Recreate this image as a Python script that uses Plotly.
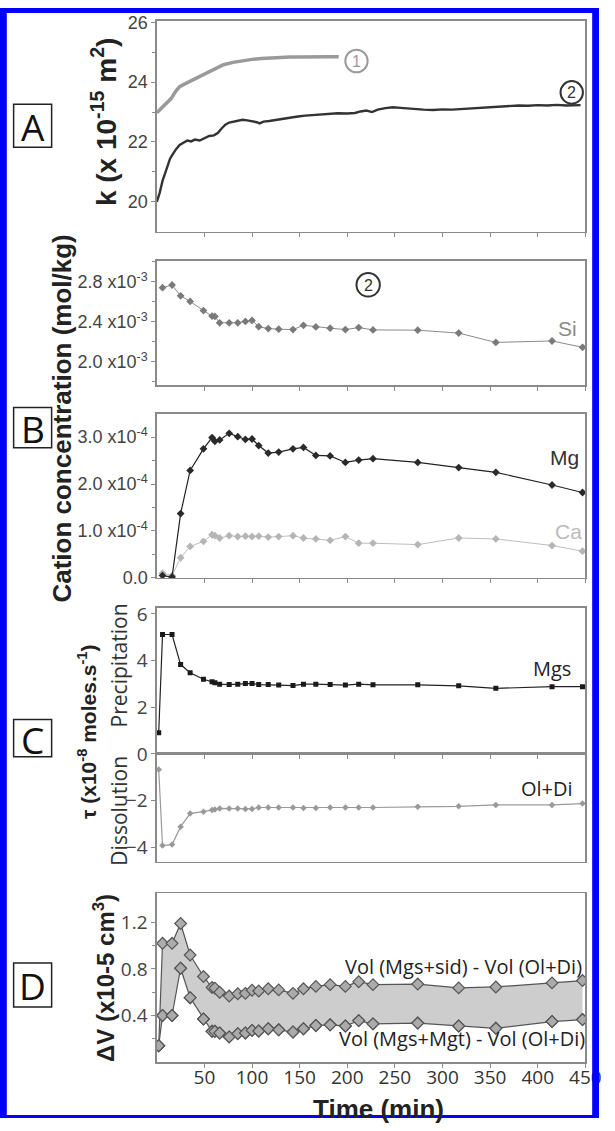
import plotly.graph_objects as go

W, H = 615, 1131

# ---------------- data ----------------
# Panel A: permeability k (x1e-15 m2)
t_k1 = [0, 5, 10, 15, 20, 24, 30, 40, 50, 60, 70, 80, 90, 100, 110, 120, 130, 140, 150, 160, 170, 180, 191]
k1 = [22.98, 23.15, 23.3, 23.45, 23.7, 23.85, 23.95, 24.1, 24.27, 24.43, 24.58, 24.66, 24.72, 24.76,
      24.79, 24.81, 24.83, 24.84, 24.84, 24.85, 24.85, 24.85, 24.85]
t_k2 = [0, 3, 6, 10, 14, 17, 20, 24, 28, 32, 36, 40, 45, 50, 55, 60, 64, 68, 72, 76, 80, 85, 90, 95,
        100, 105, 108, 112, 118, 125, 132, 140, 148, 156, 164, 172, 180, 190, 200, 208, 214, 220, 226,
        232, 240, 248, 256, 262, 270, 280, 290, 300, 310, 320, 330, 340, 350, 360, 370, 380, 390, 400,
        410, 420, 430, 440, 445]
k2 = [20.0, 20.3, 20.7, 21.1, 21.45, 21.6, 21.75, 21.9, 21.98, 22.05, 22.02, 22.08, 22.05, 22.12, 22.2,
      22.22, 22.3, 22.45, 22.58, 22.65, 22.68, 22.72, 22.74, 22.72, 22.7, 22.66, 22.62, 22.68, 22.7,
      22.74, 22.78, 22.82, 22.85, 22.88, 22.9, 22.93, 22.95, 22.96, 22.95, 22.97, 23.02, 23.05, 23.0,
      23.08, 23.13, 23.16, 23.14, 23.12, 23.1, 23.08, 23.07, 23.09, 23.08, 23.1, 23.12, 23.16, 23.17,
      23.18, 23.2, 23.22, 23.21, 23.23, 23.22, 23.24, 23.22, 23.21, 23.23]

# sampling times (min)
t_samp = [2, 6, 16, 25, 35, 49, 58, 61, 66, 76, 85, 93, 100, 107, 117, 128, 143, 154, 167, 182,
          198, 212, 227, 274, 317, 356, 415, 447]
t_cat = t_samp[1:]

# Panel B: cation concentrations (mol/kg)
si = [2.741, 2.768, 2.66, 2.604, 2.512, 2.457, 2.454, 2.39, 2.39, 2.39, 2.404, 2.414, 2.351, 2.332,
      2.326, 2.322, 2.365, 2.349, 2.336, 2.322, 2.342, 2.319, 2.316, 2.287, 2.194, 2.208, 2.145]
si = [v * 1e-3 for v in si]
mg = [0.05, 0.02, 1.37, 2.29, 2.75, 2.99, 2.91, 2.94, 3.08, 3.01, 2.95, 2.96, 2.82, 2.66, 2.68, 2.75,
      2.78, 2.61, 2.60, 2.46, 2.51, 2.54, 2.46, 2.35, 2.25, 1.98, 1.82]
mg = [v * 1e-4 for v in mg]
ca = [0.10, 0.05, 0.43, 0.67, 0.78, 0.92, 0.90, 0.85, 0.90, 0.88, 0.89, 0.88, 0.89, 0.87, 0.88, 0.90,
      0.85, 0.83, 0.80, 0.88, 0.74, 0.74, 0.71, 0.85, 0.83, 0.69, 0.57]
ca = [v * 1e-4 for v in ca]

# Panel C: rates (x1e-8 moles/s)
mgs = [0.91, 5.12, 5.12, 3.83, 3.48, 3.20, 3.09, 3.05, 2.99, 2.97, 2.99, 3.02, 3.02, 2.97, 2.97, 2.95,
       2.93, 2.99, 2.99, 2.97, 2.95, 2.99, 2.96, 2.96, 2.92, 2.81, 2.88, 2.88]
oldi = [-0.67, -3.93, -3.89, -3.12, -2.56, -2.48, -2.41, -2.39, -2.34, -2.34, -2.34, -2.36, -2.36,
        -2.30, -2.30, -2.30, -2.30, -2.32, -2.32, -2.30, -2.30, -2.30, -2.30, -2.27, -2.25, -2.19,
        -2.19, -2.13]

# Panel D: volume change (x1e-5 cm3)
dv_sid = [0.14, 1.02, 1.02, 1.19, 0.92, 0.735, 0.64, 0.635, 0.60, 0.567, 0.587, 0.59, 0.617, 0.61,
          0.63, 0.62, 0.59, 0.63, 0.65, 0.665, 0.65, 0.69, 0.665, 0.67, 0.637, 0.645, 0.68, 0.70]
dv_mgt = [0.14, 0.40, 0.40, 0.806, 0.553, 0.37, 0.264, 0.264, 0.25, 0.216, 0.244, 0.25, 0.272, 0.267,
          0.286, 0.277, 0.258, 0.286, 0.314, 0.32, 0.31, 0.356, 0.328, 0.335, 0.31, 0.29, 0.348, 0.365]

x_ticks = [50, 100, 150, 200, 250, 300, 350, 400, 450]
x_ticktext = ["50", "100", "150", "200", "250", "300", "350", "400", "450"]
si_ticks = [2.0e-3, 2.4e-3, 2.8e-3]
si_ticktext = ["2.0 x10<sup>-3</sup>", "2.4 x10<sup>-3</sup>", "2.8 x10<sup>-3</sup>"]
mg_ticks = [0.0, 1.0e-4, 2.0e-4, 3.0e-4]
mg_ticktext = ["0.0", "1.0 x10<sup>-4</sup>", "2.0 x10<sup>-4</sup>", "3.0 x10<sup>-4</sup>"]

# ---------------- helpers ----------------
def px(x):
    return x / W

def py(y):
    return 1 - y / H

def ydom(top, bottom):
    return [py(bottom), py(top)]

XDOM = [px(161), px(601)]
AX = "#8a8a8a"
ARIAL = "Liberation Sans"
OPEN = "Open Sans"

fig = go.Figure()

# A
fig.add_trace(go.Scatter(x=t_k1, y=k1, mode="lines", line=dict(color="#9a9a9a", width=3.5),
                         xaxis="x", yaxis="y", showlegend=False))
fig.add_trace(go.Scatter(x=t_k2, y=k2, mode="lines", line=dict(color="#333333", width=2.4),
                         xaxis="x", yaxis="y", showlegend=False))
# B Si
fig.add_trace(go.Scatter(x=t_cat, y=si, mode="lines+markers", line=dict(color="#8a8a8a", width=1),
                         marker=dict(symbol="diamond", size=6, color="#7a7a7a"),
                         xaxis="x2", yaxis="y2", showlegend=False))
# B Mg, Ca
fig.add_trace(go.Scatter(x=t_cat, y=ca, mode="lines+markers", line=dict(color="#bdbdbd", width=1),
                         marker=dict(symbol="diamond", size=6, color="#b5b5b5"),
                         xaxis="x3", yaxis="y3", showlegend=False))
fig.add_trace(go.Scatter(x=t_cat, y=mg, mode="lines+markers", line=dict(color="#222222", width=1.2),
                         marker=dict(symbol="diamond", size=6, color="#2a2a2a"),
                         xaxis="x3", yaxis="y3", showlegend=False))
# C
fig.add_trace(go.Scatter(x=t_samp, y=mgs, mode="lines+markers", line=dict(color="#222222", width=1.2),
                         marker=dict(symbol="square", size=5, color="#1a1a1a"),
                         xaxis="x4", yaxis="y4", showlegend=False))
fig.add_trace(go.Scatter(x=t_samp, y=oldi, mode="lines+markers", line=dict(color="#9a9a9a", width=1.2),
                         marker=dict(symbol="diamond", size=5, color="#999999"),
                         xaxis="x5", yaxis="y5", showlegend=False))
# D
dmark = dict(symbol="diamond", size=9, color="#ababab", line=dict(color="#555555", width=1.2))
fig.add_trace(go.Scatter(x=t_samp, y=dv_mgt, mode="lines+markers", line=dict(color="#555555", width=1.2),
                         marker=dmark, xaxis="x6", yaxis="y6", showlegend=False))
fig.add_trace(go.Scatter(x=t_samp, y=dv_sid, mode="lines+markers", line=dict(color="#555555", width=1.2),
                         fill="tonexty", fillcolor="#cdcdcd", marker=dmark,
                         xaxis="x6", yaxis="y6", showlegend=False))
fig.add_trace(go.Scatter(x=t_samp, y=dv_mgt, mode="markers", marker=dmark,
                         xaxis="x6", yaxis="y6", showlegend=False))


def xax(anchor, labels=False, ticks="outside"):
    return dict(domain=XDOM, range=[0, 450], anchor=anchor, showline=True, linecolor=AX, linewidth=1.5,
                mirror=True, showgrid=False, zeroline=False, ticks=ticks, ticklen=4, tickcolor=AX,
                tickvals=x_ticks, ticktext=x_ticktext, showticklabels=labels,
                ticklabeloverflow="allow",
                tickfont=dict(family=OPEN, size=19, color="#333"))


def yax(anchor, dom, rng, tickvals, ticktext=None, font=ARIAL, size=18, minor=None):
    d = dict(domain=dom, range=rng, anchor=anchor, showline=True, linecolor=AX, linewidth=1.5,
             mirror=True, showgrid=False, zeroline=False, ticks="outside", ticklen=4, tickcolor=AX,
             tickvals=tickvals, tickfont=dict(family=font, size=size, color="#444"),
             ticklabeloverflow="allow")
    if ticktext is not None:
        d["ticktext"] = ticktext
    if minor is not None:
        d["minor"] = dict(tickvals=minor, ticks="outside", ticklen=3, tickcolor=AX, showgrid=False)
    return d


layout = dict(
    width=W, height=H, margin=dict(l=0, r=0, t=0, b=0),
    paper_bgcolor="white", plot_bgcolor="white", showlegend=False,
    xaxis=xax("y"),
    yaxis=yax("x", ydom(13, 228), [19, 26.05], [20, 22, 24, 26], minor=[21, 23, 25]),
    xaxis2=xax("y2"),
    yaxis2=yax("x2", ydom(257.3, 384.3), [1.766e-3, 3.013e-3], si_ticks, si_ticktext,
               minor=[1.8e-3, 2.2e-3, 2.6e-3, 3.0e-3]),
    xaxis3=xax("y3"),
    yaxis3=yax("x3", ydom(413.3, 580.7), [0, 3.5e-4], mg_ticks, mg_ticktext,
               minor=[0.5e-4, 1.5e-4, 2.5e-4]),
    xaxis4=xax("y4"),
    yaxis4=yax("x4", ydom(611, 760), [0, 6.27], [0, 2, 4, 6], font=OPEN, size=19),
    xaxis5=xax("y5", ticks=""),
    yaxis5=yax("x5", ydom(760, 870), [-4.63, 0], [-4, -2], font=OPEN, size=19),
    xaxis6=xax("y6", labels=True),
    yaxis6=yax("x6", ydom(902, 1074), [0, 1.45], [0.4, 0.8, 1.2], font=OPEN, size=19,
               minor=[0.2, 0.6, 1.0]),
)
fig.update_layout(**layout)

# pull the bottom tick labels a little closer to the axis, as in the original
try:
    fig.update_layout(xaxis6=dict(ticklabelstandoff=-6))
except Exception:
    pass

shapes = []
annots = []


def box_label(letter, x0, y0, x1, y1):
    shapes.append(dict(type="rect", xref="paper", yref="paper", x0=px(x0), x1=px(x1), y0=py(y1), y1=py(y0),
                       line=dict(color="#222", width=1.5), fillcolor="white", layer="above"))
    annots.append(dict(text=letter, x=px((x0 + x1) / 2), y=py((y0 + y1) / 2 + 1), xref="paper", yref="paper",
                       showarrow=False, font=dict(family=OPEN, size=37, color="#111"),
                       xanchor="center", yanchor="middle"))


box_label("A", 14, 98, 53, 142)
box_label("B", 14, 407, 53, 448)
box_label("C", 14, 725, 53, 763)
box_label("D", 14, 973, 53, 1018)


def vtitle(text, x, y, size, family=ARIAL, color="#222"):
    annots.append(dict(text=text, x=px(x), y=py(y), xref="paper", yref="paper", showarrow=False,
                       textangle=-90, font=dict(family=family, size=size, color=color),
                       xanchor="center", yanchor="middle"))


vtitle("<b>k (x 10<sup>-15</sup> m<sup>2</sup>)</b>", 107, 116, 28)
vtitle("<b>Cation concentration (mol/kg)</b>", 64, 418, 26)
vtitle("<b>τ (x10<sup>-8</sup> moles.s<sup>-1</sup>)</b>", 90, 738, 21)
vtitle("Precipitation", 122, 670, 21, OPEN, "#333")
vtitle("Dissolution", 122, 818, 21, OPEN, "#333")
vtitle("<b>ΔV (x10-5 cm<sup>3</sup>)</b>", 106, 988, 24)


def text(t, x, y, size, color, family=ARIAL, xanchor="center"):
    annots.append(dict(text=t, x=px(x), y=py(y), xref="paper", yref="paper", showarrow=False,
                       font=dict(family=family, size=size, color=color), xanchor=xanchor, yanchor="middle"))


text("Si", 583, 327, 21, "#8a8a8a")
text("Mg", 580, 458, 21, "#333")
text("Ca", 584, 533, 21, "#bbbbbb")
text("Mgs", 567, 673, 20, "#222", OPEN)
text("Ol+Di", 562, 795, 20, "#222", OPEN)
text("Vol (Mgs+sid) - Vol (Ol+Di)", 600, 977, 20, "#222", OPEN, xanchor="right")
text("Vol (Mgs+Mgt) - Vol (Ol+Di)", 603, 1050, 20, "#222", OPEN, xanchor="right")
text("<b>Time (min)</b>", 389, 1122, 26, "#222")


def circled(num, cx, cy, d, color):
    shapes.append(dict(type="circle", xref="paper", yref="paper", x0=px(cx - d / 2), x1=px(cx + d / 2),
                       y0=py(cy + d / 2), y1=py(cy - d / 2), line=dict(color=color, width=2)))
    text(num, cx, cy + 0.5, 16, color)


circled("1", 366, 54, 23, "#9a9a9a")
circled("2", 587, 86, 23, "#333")
circled("2", 378, 282, 24, "#333")

# blue frame
BL = "#0000ff"
for (x0, y0, x1, y1) in [(0, 0, 7, H), (0, 0, W, 5), (608, 0, W, H), (0, 1128, W, H)]:
    shapes.append(dict(type="rect", xref="paper", yref="paper", x0=px(x0), x1=px(x1), y0=py(y1), y1=py(y0),
                       line=dict(width=0), fillcolor=BL, layer="above"))

fig.update_layout(shapes=shapes, annotations=annots)
fig.write_html(
    "out.html",
    config={"displayModeBar": False, "staticPlot": True},
    post_script=("document.documentElement.style.margin='0';document.documentElement.style.padding='0';"
                 "document.documentElement.style.overflow='hidden';"
                 "document.body.style.margin='0';document.body.style.padding='0';"
                 "document.body.style.overflow='hidden';"
                 "var gd=document.getElementsByClassName('plotly-graph-div')[0];"
                 "gd.style.position='fixed';gd.style.left='0px';gd.style.top='0px';"),
)
